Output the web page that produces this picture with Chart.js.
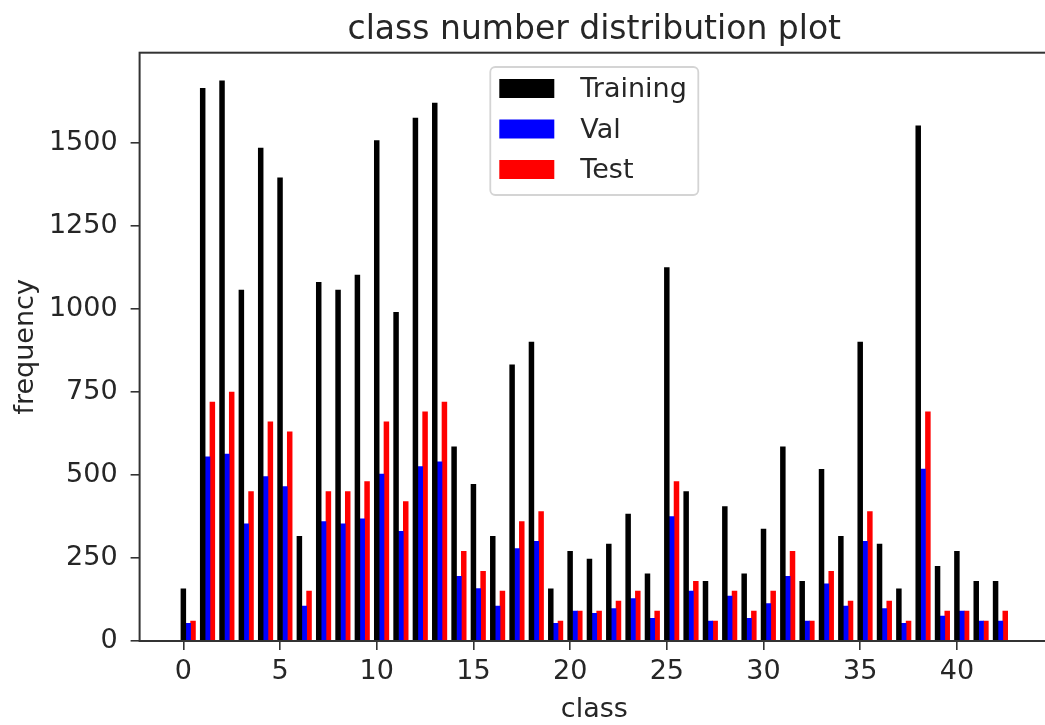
<!DOCTYPE html>
<html>
<head>
<meta charset="utf-8">
<script src="https://cdn.jsdelivr.net/npm/chart.js@4/dist/chart.umd.min.js"></script>
<style>
  html, body { margin: 0; padding: 0; background: #ffffff; overflow: hidden; }
  #wrap { width: 1049px; height: 725px; }
  canvas { display: block; }
</style>
</head>
<body>
<div id="wrap"><canvas id="c" width="1049" height="725"></canvas></div>
<script>
// Class ids 0..42
const classIds = [0, 1, 2, 3, 4, 5, 6, 7, 8, 9, 10, 11, 12, 13, 14, 15, 16, 17, 18, 19, 20,
  21, 22, 23, 24, 25, 26, 27, 28, 29, 30, 31, 32, 33, 34, 35, 36, 37, 38, 39, 40, 41, 42];

// Sample counts per class
const trainCounts = [157, 1665, 1687, 1057, 1485, 1395, 315, 1080, 1057, 1102, 1507, 990, 1575, 1620,
  585, 472, 315, 832, 900, 157, 270, 247, 292, 382, 202, 1125, 450, 180, 405, 202, 337, 585, 180,
  517, 315, 900, 292, 157, 1552, 225, 270, 180, 180];
const valCounts = [53, 555, 563, 353, 495, 465, 105, 360, 353, 368, 503, 330, 525, 540,
  195, 158, 105, 278, 300, 53, 90, 83, 98, 128, 68, 375, 150, 60, 135, 68, 113, 195, 60,
  172, 105, 300, 98, 53, 518, 75, 90, 60, 60];
const testCounts = [60, 720, 750, 450, 660, 630, 150, 450, 450, 480, 660, 420, 690, 720,
  270, 210, 150, 360, 390, 60, 90, 90, 120, 150, 90, 480, 180, 60, 150, 90, 150, 270, 60,
  210, 120, 390, 120, 60, 690, 90, 90, 60, 90];

// Axis ticks
const xTicks = [0, 5, 10, 15, 20, 25, 30, 35, 40];
const yTicks = [0, 250, 500, 750, 1000, 1250, 1500];

// Bar width in class units; each split is dodged by one bar width
const BAR_W = 0.25;
const X_MIN = -2.2625, X_MAX = 44.7625;
const Y_MAX = 1772;

const FONT = "'DejaVu Sans', 'Liberation Sans', sans-serif";
const TEXT = '#262626';

function series(counts, shift) {
  return classIds.map((c, i) => ({ x: c + shift * BAR_W, y: counts[i] }));
}

const decor = {
  id: 'decor',
  afterDatasetsDraw(chart) {
    const { ctx, chartArea: a } = chart;
    ctx.save();
    ctx.strokeStyle = '#333333';
    ctx.lineWidth = 2;
    ctx.strokeRect(a.left, a.top, a.right - a.left, a.bottom - a.top);
    ctx.restore();
  },
  afterDraw(chart) {
    const { ctx, chartArea: a } = chart;
    const cx = (a.left + a.right) / 2;
    ctx.save();
    ctx.fillStyle = TEXT;

    // title
    ctx.font = '33px ' + FONT;
    ctx.textAlign = 'center';
    ctx.textBaseline = 'alphabetic';
    ctx.fillText('class number distribution plot', cx, 38.5);

    // x axis label
    ctx.font = '27px ' + FONT;
    ctx.fillText('class', cx, 717);

    // y axis label
    ctx.save();
    ctx.translate(32.5, (a.top + a.bottom) / 2);
    ctx.rotate(-Math.PI / 2);
    ctx.fillText('frequency', 0, 0);
    ctx.restore();

    // legend
    const bw = 208, bh = 128;
    const bx = cx - bw / 2, by = a.top + 14.3;
    ctx.beginPath();
    ctx.roundRect(bx, by, bw, bh, 5);
    ctx.fillStyle = 'rgba(255,255,255,0.8)';
    ctx.fill();
    ctx.strokeStyle = '#d4d4d4';
    ctx.lineWidth = 1.8;
    ctx.stroke();
    ctx.font = '27px ' + FONT;
    ctx.textAlign = 'left';
    ctx.textBaseline = 'alphabetic';
    chart.data.datasets.forEach((ds, i) => {
      const yc = by + 21.5 + i * 40.5;
      ctx.fillStyle = ds.backgroundColor;
      ctx.fillRect(bx + 9, yc - 9.5, 55, 19);
      ctx.fillStyle = TEXT;
      ctx.fillText(ds.label, bx + 90, yc + 8.5);
    });
    ctx.restore();
  }
};

new Chart(document.getElementById('c'), {
  type: 'bar',
  data: {
    datasets: [
      { label: 'Training', data: series(trainCounts, 0), backgroundColor: '#000000' },
      { label: 'Val', data: series(valCounts, 1), backgroundColor: '#0000ff' },
      { label: 'Test', data: series(testCounts, 2), backgroundColor: '#ff0000' }
    ]
  },
  options: {
    responsive: false,
    devicePixelRatio: 1,
    animation: false,
    grouped: false,
    categoryPercentage: 1,
    barPercentage: 1,
    borderWidth: 0,
    layout: { padding: { top: 52.7, left: 0, right: 0, bottom: 0 } },
    plugins: {
      legend: { display: false },
      title: { display: false },
      tooltip: { enabled: false }
    },
    scales: {
      x: {
        type: 'linear',
        min: X_MIN,
        max: X_MAX,
        offset: false,
        afterBuildTicks(scale) { scale.ticks = xTicks.map(v => ({ value: v })); },
        afterFit(scale) { scale.height = 84; },
        grid: {
          display: true, offset: false, drawOnChartArea: false, drawTicks: true,
          tickLength: 9, color: '#333333', lineWidth: 1.6
        },
        border: { display: false },
        ticks: {
          autoSkip: false, maxRotation: 0, minRotation: 0, padding: 6,
          color: TEXT, font: { family: FONT, size: 27 },
          callback: v => String(v)
        }
      },
      y: {
        type: 'linear',
        min: 0,
        max: Y_MAX,
        afterBuildTicks(scale) { scale.ticks = yTicks.map(v => ({ value: v })); },
        afterFit(scale) { scale.width = 139.6; },
        grid: {
          display: true, drawOnChartArea: false, drawTicks: true,
          tickLength: 9, color: '#333333', lineWidth: 1.6
        },
        border: { display: false },
        ticks: {
          padding: 13, color: TEXT, font: { family: FONT, size: 27 },
          callback: v => String(v)
        }
      }
    }
  },
  plugins: [decor]
});
</script>
</body>
</html>
